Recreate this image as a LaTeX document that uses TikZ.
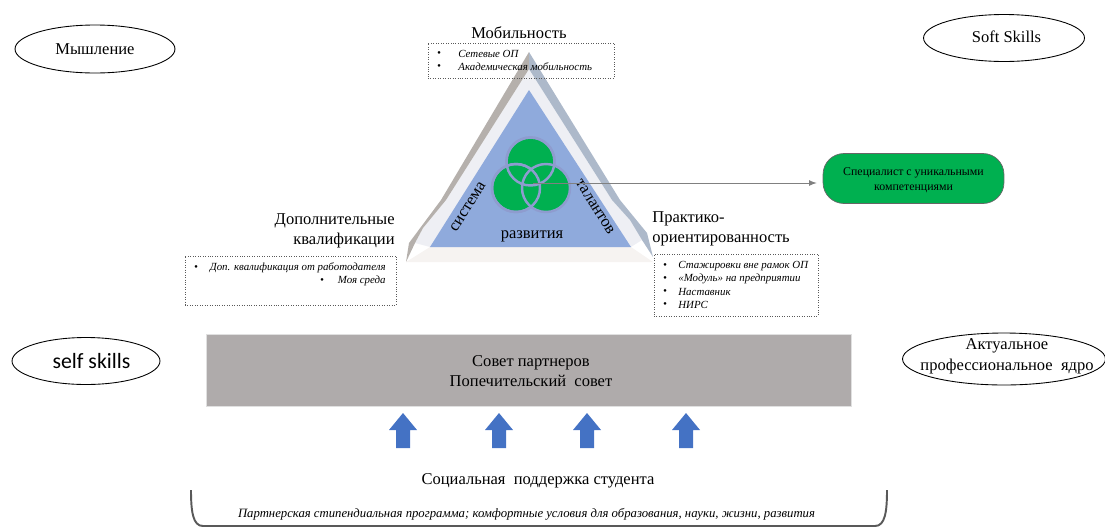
\documentclass[tikz,border=0pt]{standalone}
\usepackage{fontspec}
\setmainfont{Liberation Serif}
\newfontfamily\skillfont{Carlito}
\usetikzlibrary{shapes.geometric}
\definecolor{bluetri}{HTML}{8FAADC}
\definecolor{bandleft}{HTML}{B5B0AC}
\definecolor{bandright}{HTML}{ADB9CA}
\definecolor{lighttri}{HTML}{EEEFF4}
\definecolor{lowband}{HTML}{F6F3F1}
\definecolor{ringblue}{HTML}{8E9CCF}
\definecolor{greenfill}{HTML}{00B050}
\definecolor{greybar}{HTML}{AFABAB}
\definecolor{uparrowblue}{HTML}{4472C4}
\tikzset{
  bigtext/.style={font=\fontsize{9.4pt}{12pt}\selectfont, inner sep=0pt},
  smalltext/.style={font=\fontsize{6.2pt}{7pt}\selectfont\itshape, inner sep=0pt},
  skillellipse/.style={draw, ellipse, inner sep=0pt, line width=0.5pt, align=center},
  dashbox/.style={draw=black!65, densely dotted, inner sep=0pt, line width=0.4pt},
  ring/.style={circle, draw=ringblue, fill=greenfill, line width=1.4pt, minimum size=0.96cm, inner sep=0pt}
}
\begin{document}
\begin{tikzpicture}[x=0.02cm,y=-0.02cm]
  \clip (0,0) rectangle (1105,528);

  % corner ellipses
  \node[skillellipse, bigtext, minimum width=3.2cm, minimum height=0.96cm] (thinking) at (95,49) {Мышление};
  \node[skillellipse, minimum width=3.22cm, minimum height=0.94cm] (softskills) at (1004,38) {};
  \node[bigtext] (softtext) at (1006.5,37) {Soft Skills};
  \node[skillellipse, minimum width=2.96cm, minimum height=0.94cm] (selfskills) at (86,361) {};
  \node[inner sep=0pt, font=\fontsize{12.4pt}{14pt}\skillfont] (selftext) at (91.5,361) {self skills};
  \node[skillellipse, minimum width=4.06cm, minimum height=1.04cm] (core) at (1004,359) {};
  \node[bigtext, align=center] (coretext) at (1007,356) {Актуальное\\профессиональное\ \ ядро};

  % triangle
  \fill[lowband] (406,262) -- (653,262) -- (631,247) -- (430,247) -- cycle;
  \fill[lighttri] (529,69) -- (612,200) -- (630,220) -- (642,240) -- (631,247) -- (430,247) -- (415,243) -- (423,228) -- (446,200) -- cycle;
  \fill[bandleft] (529,52) -- (441,200) -- (409,243) -- (406,262) -- (415,243) -- (423,228) -- (446,200) -- (529,69) -- cycle;
  \fill[bandright] (529,52) -- (620,200) -- (647,233) -- (653,257) -- (642,240) -- (630,220) -- (612,200) -- (529,69) -- cycle;
  \fill[bluetri] (529,90) -- (631,247) -- (430,247) -- cycle;

  \node[ring] (ringtop) at (530.5,161.5) {};
  \node[ring] (ringleft) at (516,188) {};
  \node[ring] (ringright) at (546,188) {};
  \draw[ringblue, line width=1.4pt] (ringtop.center) circle (24);
  \draw[ringblue, line width=1.4pt] (ringleft.center) circle (24);
  \coordinate (hub) at (533,183);

  \node[bigtext, rotate=58] (sys) at (468,207) {система};
  \node[bigtext, rotate=-58] (tal) at (595,207) {талантов};
  \node[bigtext] (dev) at (532,236) {развития};

  % result
  \node[draw=black!60, fill=greenfill, rounded corners=0.42cm, minimum width=3.62cm, minimum height=1cm, inner sep=0pt] (spec) at (913.5,178.5) {};
  \node[inner sep=0pt, align=center, font=\fontsize{6.75pt}{8.6pt}\selectfont] (spectext) at (913.5,180) {Специалист с уникальными\\компетенциями};
  \draw[-latex, black!50, line width=0.5pt, shorten >=0.12cm] (hub) -- (hub -| spec.west);

  % mobility
  \node[bigtext] (mob) at (519,33) {Мобильность};
  \node[dashbox, minimum width=3.72cm, minimum height=0.7cm] (mobbox) at (521,60.5) {};
  \foreach \y/\t in {54/Сетевые ОП, 67/Академическая мобильность} {
    \node[smalltext] (mobdot\y) at (439,\y) {•};
    \node[smalltext, anchor=west] (mobline\y) at (458,\y) {\t};
  }

  % qualifications
  \node[bigtext, anchor=east] (qualone) at (395,221) {Дополнительные};
  \node[bigtext, anchor=east] (qualtwo) at (395,241) {квалификации};
  \node[dashbox, minimum width=4.22cm, minimum height=0.98cm] (qualbox) at (290.5,280.5) {};
  \node[smalltext] (qualdotone) at (196,268) {•};
  \node[smalltext, anchor=east] (quallineone) at (386,268) {Доп. квалификация от работодателя};
  \node[smalltext] (qualdottwo) at (322,281) {•};
  \node[smalltext, anchor=east] (quallinetwo) at (386,281) {Моя среда};

  % practice
  \node[bigtext, anchor=west] (pracone) at (652,219) {Практико-};
  \node[bigtext, anchor=west] (practwo) at (652,240) {ориентированность};
  \node[dashbox, minimum width=3.28cm, minimum height=1.24cm] (pracbox) at (736,285) {};
  \foreach \y/\t in {266.5/Стажировки вне рамок ОП, 279/«Модуль» на предприятии, 292/Наставник, 305/НИРС} {
    \node[smalltext] (pracdot\y) at (665,\y) {•};
    \node[smalltext, anchor=west] (pracline\y) at (678,\y) {\t};
  }

  % council
  \node[fill=greybar, draw=black!12, line width=0.5pt, minimum width=12.9cm, minimum height=1.44cm, inner sep=0pt] (council) at (528.5,370) {};
  \node[bigtext, align=center, font=\fontsize{9.4pt}{11.4pt}\selectfont] (counciltext) at (531,371) {Совет партнеров\\Попечительский\ \ совет};

  \foreach \x in {403,499,587,686} {
    \fill[uparrowblue] (\x-7,448) -- (\x-7,430) -- (\x-14,430) -- (\x,413) -- (\x+14,430) -- (\x+7,430) -- (\x+7,448) -- cycle;
  }

  % support
  \node[bigtext] (support) at (538,481) {Социальная\ \ поддержка студента};
  \draw[black!65, line width=1.1pt] (191,490) .. controls (191,512) and (193,526) .. (203,526) -- (875,526) .. controls (885,526) and (887,512) .. (887,490);
  \node[smalltext, font=\fontsize{7.24pt}{8pt}\selectfont\itshape] (program) at (526.5,514) {Партнерская стипендиальная программа; комфортные условия для образования, науки, жизни, развития};
\end{tikzpicture}
\end{document}
